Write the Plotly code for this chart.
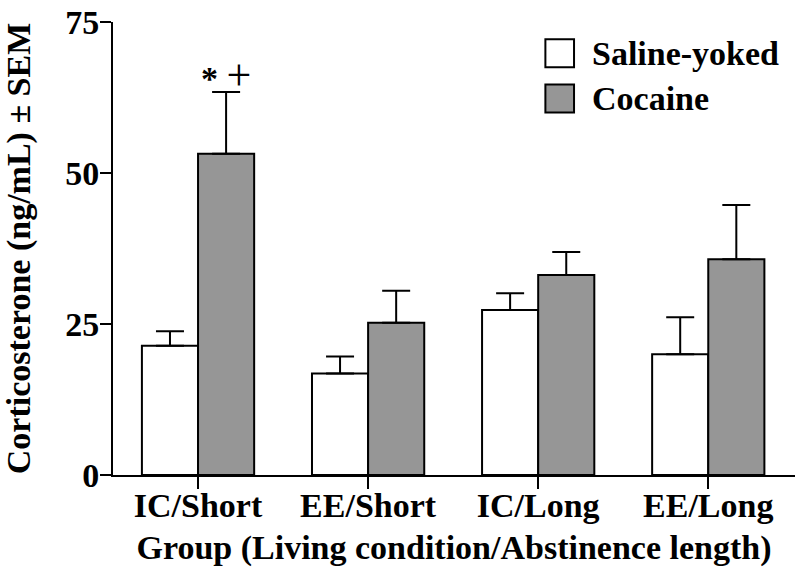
import plotly.graph_objects as go

groups = ["IC/Short", "EE/Short", "IC/Long", "EE/Long"]
saline = [21.4, 16.8, 27.3, 20.0]
saline_sem = [2.4, 2.8, 2.8, 6.1]
cocaine = [53.2, 25.2, 33.1, 35.7]
cocaine_sem = [10.2, 5.3, 3.8, 9.0]
yticks = [0, 25, 50, 75]

FONT = "Liberation Serif, Times New Roman, serif"
FS = 34
BF = dict(family=FONT, size=FS, color="black", weight="bold")
fig = go.Figure()
fig.add_trace(go.Bar(
    x=groups, y=saline, name="Saline-yoked",
    marker=dict(color="white", line=dict(color="black", width=2)),
    error_y=dict(type="data", symmetric=False, array=saline_sem,
                 arrayminus=[0]*4, color="black", thickness=2, width=14),
    showlegend=False,
))
fig.add_trace(go.Bar(
    x=groups, y=cocaine, name="Cocaine",
    marker=dict(color="#969696", line=dict(color="black", width=2)),
    error_y=dict(type="data", symmetric=False, array=cocaine_sem,
                 arrayminus=[0]*4, color="black", thickness=2, width=14),
    showlegend=False,
))

# significance marker
fig.add_annotation(x=groups[0], y=cocaine[0] + cocaine_sem[0], xshift=28,
                   text="<b>*</b> <span style='font-size:44px'>+</span>",
                   showarrow=False, yanchor="middle", yshift=17,
                   font=dict(family=FONT, size=FS, color="black"))

# custom legend (large swatches)
legend_items = [("Saline-yoked", "white", 0.962), ("Cocaine", "#969696", 0.862)]
for name, col, yp in legend_items:
    fig.add_shape(type="rect", xref="paper", yref="paper",
                  x0=0.634, x1=0.676, y0=yp - 0.062, y1=yp,
                  fillcolor=col, line=dict(color="black", width=2))
    fig.add_annotation(xref="paper", yref="paper", x=0.699, y=yp - 0.031,
                       text=name, showarrow=False, xanchor="left",
                       yanchor="middle", font=BF)

fig.update_layout(
    width=800, height=580,
    margin=dict(l=113, r=5, t=22, b=105),
    plot_bgcolor="white", paper_bgcolor="white",
    barmode="group", bargap=0.34, bargroupgap=0,
    font=dict(family=FONT, size=FS, color="black"),
)
fig.update_xaxes(
    range=[-0.5, 3.51], showline=True, linecolor="black", linewidth=2,
    ticks="outside", ticklen=12, tickwidth=2, tickcolor="black",
    tickfont=BF, ticklabelstandoff=-13,
    title=dict(text="Group (Living condition/Abstinence length)",
               font=BF, standoff=12),
    showgrid=False, zeroline=False,
)
fig.update_yaxes(
    range=[0, 75], tickvals=yticks, showline=True, linecolor="black",
    linewidth=2, ticks="outside", ticklen=11, tickwidth=2, tickcolor="black",
    tickfont=BF, ticklabelstandoff=-6,
    title=dict(text="Corticosterone (ng/mL) ± SEM", font=BF, standoff=25),
    showgrid=False, zeroline=False,
)

fig.write_html("out.html", post_script="document.body.style.margin='0';",
               config={"displayModeBar": False})
